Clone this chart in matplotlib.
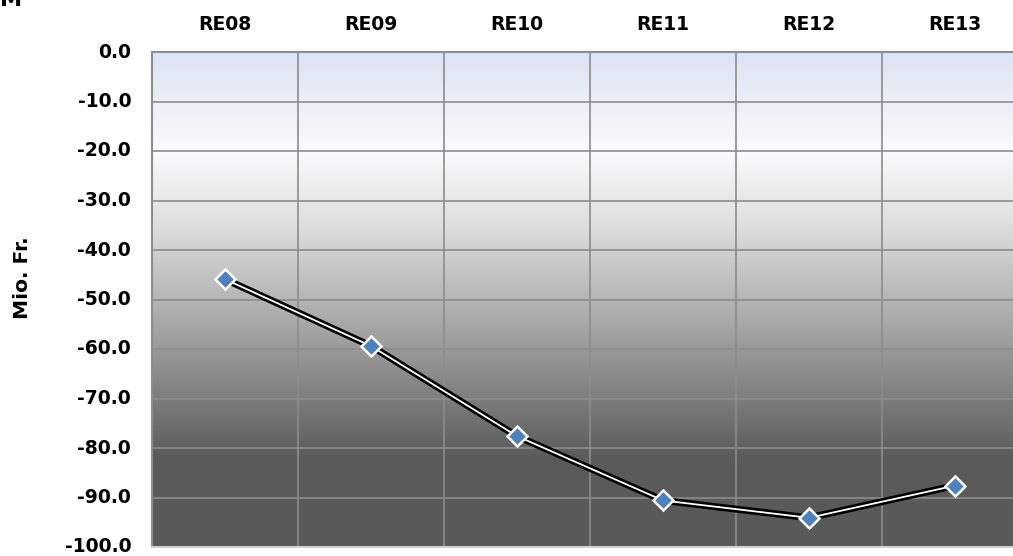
import numpy as np
import matplotlib.pyplot as plt
from matplotlib.colors import LinearSegmentedColormap

categories = ['RE08', 'RE09', 'RE10', 'RE11', 'RE12', 'RE13']
values = [-45.9, -59.4, -77.6, -90.6, -94.1, -87.6]
yticks = np.arange(0, -101, -10)

plt.rcParams['font.family'] = ['DejaVu Sans']

fig = plt.figure(figsize=(10.13, 5.56), dpi=100)
ax = fig.add_axes([152 / 1013, 9 / 556, 876 / 1013, 495 / 556])

x = np.arange(len(categories))
ax.set_xlim(-0.5, 5.5)
ax.set_ylim(-100, 0)

# background gradient (top bluish white -> dark grey)
cmap = LinearSegmentedColormap.from_list('bg', [
    (0.0, '#dce3f2'), (0.2, '#fbfbfd'), (0.35, '#dedede'),
    (0.6, '#9a9a9a'), (0.82, '#5b5b5b'), (1.0, '#595959')])
grad = np.linspace(0, 1, 256).reshape(-1, 1)
ax.imshow(grad, cmap=cmap, aspect='auto', extent=(-0.5, 5.5, -100, 0),
          origin='upper', zorder=0)

ax.set_yticks(yticks)
ax.set_yticklabels([f'{v:.1f}' for v in yticks], fontsize=13.5, fontweight='bold',
                   va='center')
ax.set_xticks(x)
ax.set_xticklabels(categories, fontsize=13.5, fontweight='bold')
ax.xaxis.tick_top()
ax.tick_params(axis='y', length=0, pad=15)
ax.tick_params(axis='x', length=0, pad=13)

for yv in yticks:
    ax.axhline(yv, color='#8c8c8c', lw=1.2, zorder=1)
for xv in np.arange(0.5, 5.5, 1):
    ax.axvline(xv, color='#8c8c8c', lw=1.2, zorder=1)

for s in ax.spines.values():
    s.set_color('#8c8c8c')
    s.set_linewidth(1.5)
ax.spines['bottom'].set_color('#d0d0d0')

ax.plot(x, values, color='black', lw=5, zorder=3, solid_capstyle='round')
ax.plot(x, values, color='white', lw=1.3, zorder=4)
ax.plot(x, values, ls='none', marker='D', ms=10, mfc='#4f81bd', mec='white',
        mew=1.8, zorder=5)

fig.text(23 / 1013, 1 - 278 / 556, 'Mio. Fr.', fontsize=14.5, fontweight='bold',
         rotation=90, ha='center', va='center')

fig.text(0.0, 1.0, 'M', fontsize=16, fontweight='bold', va='center', ha='left')

fig.savefig('out.png', dpi=100)
